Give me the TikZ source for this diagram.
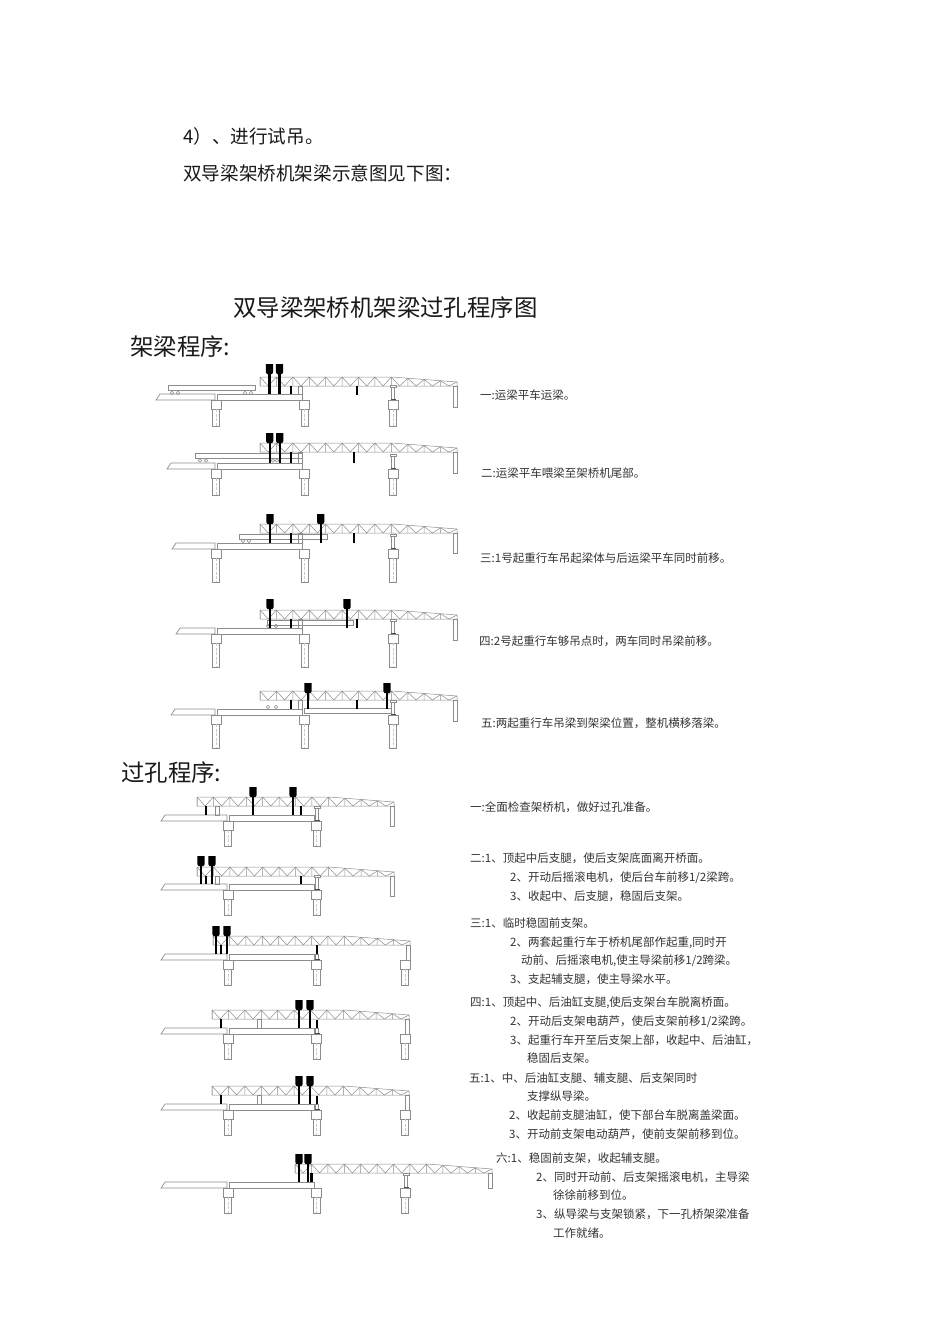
\documentclass[tikz,border=0pt]{standalone}
\usepackage{fontspec}
\setmainfont{Noto Sans CJK SC}
\usetikzlibrary{calc}

% deck spans and piers: [pier offsets] first pier x, deck top y, tip x, column bottom offset
\newcommand{\bridgedeck}[5][0,88.5,177]{%
  \draw[deckline] (#4,#3+6) -- (#4+4,#3) -- (#2-1,#3) -- (#2-1,#3+6) -- cycle;
  \draw[deckline] (#2+1,#3) rectangle (#2+86,#3+6);
  \foreach \k in {#1}{
    \draw[deckline,fill=white] (#2+\k-5,#3+6) rectangle (#2+\k+5,#3+15);
    \draw[deckline] (#2+\k-3.4,#3+15) rectangle (#2+\k+3.4,#3+#5);
    \draw[axisline] (#2+\k,#3+15) -- (#2+\k,#3+#5);
  }
}
% truss: left x, top y, end leg length
\newcommand{\trussbeam}[3]{%
  \draw[thinline] (#1,#2) -- (#1+132,#2) -- (#1+197,#2+5) -- (#1+197,#2+9) -- (#1,#2+9) -- cycle;
  \foreach \i in {0,...,11}{
    \pgfmathsetmacro\xa{#1+\i*16.42}
    \pgfmathsetmacro\xb{\xa+8.21}
    \pgfmathsetmacro\xc{\xa+16.42}
    \pgfmathsetmacro\ya{#2+max(\i-8,0)*1.25}
    \pgfmathsetmacro\yc{#2+max(\i-7,0)*1.25}
    \draw[thinline] (\xa,\ya) -- (\xa,#2+9) (\xa,\ya) -- (\xb,#2+9) -- (\xc,\yc);
  }
  \draw[deckline] (#1+193,#2+9) rectangle (#1+197,#2+9+#3);
}
% crane: x, head top y, hanger bottom y
\newcommand{\crane}[3]{%
  \fill[black] (#1-3.7,#2) -- (#1+3.7,#2) -- (#1+3.7,#2+8) -- (#1+2.6,#2+10)
     -- (#1-2.6,#2+10) -- (#1-3.7,#2+8) -- cycle;
  \draw[blackbar] (#1,#2+9) -- (#1,#3);
}
\newcommand{\legblack}[3]{\draw[blackbar] (#1,#2) -- (#1,#3);}
\newcommand{\leglight}[3]{\draw[deckline] (#1-2,#2) rectangle (#1+2,#3);}
% jack on a pier cap: x, deck y
\newcommand{\pierjack}[2]{%
  \draw[deckline,fill=white] (#1-1.8,#2-9) rectangle (#1+1.8,#2+6);
  \draw[deckline,fill=white] (#1-3,#2-9) rectangle (#1+3,#2-7);
  \fill[black!70] (#1-2.5,#2+5) rectangle (#1+2.5,#2+6);
}
\newcommand{\jackbase}[2]{%
  \draw[deckline,fill=white] (#1-1.8,#2) rectangle (#1+1.8,#2+6);
  \fill[black!70] (#1-2.5,#2+5) rectangle (#1+2.5,#2+6);
}
% girder: left x, right x, top y
\newcommand{\girder}[3]{\draw[deckline,fill=white] (#1,#3) rectangle (#2,#3+5.5);}
\newcommand{\wheelset}[2]{%
  \foreach \w in {#1}{\draw[thinline] (\w,#2) circle (1.8pt);}
}

\begin{document}
\begin{tikzpicture}[
    x=1pt,y=-1pt,
    deckline/.style={draw=black!45,line width=0.7pt},
    thinline/.style={draw=black!45,line width=0.5pt},
    axisline/.style={draw=black!20,line width=0.3pt,dash pattern=on 3pt off 1.5pt},
    blackbar/.style={draw=black,line width=2.3pt},
    bodytext/.style={anchor=base west,inner sep=0pt,font=\fontsize{18.6}{20}\selectfont,text=black!90},
    titletext/.style={anchor=base west,inner sep=0pt,font=\fontsize{23.4}{25}\selectfont,text=black!90},
    steptext/.style={anchor=base west,inner sep=0pt,font=\fontsize{11.5}{13}\selectfont,text=black!80},
]
\useasboundingbox (0,0) rectangle (950,1344);

% ---- Page text -----------------------------------------------------------
\node[bodytext] (para1) at (183,143) {4）、进行试吊。};
\node[bodytext] (para2) at (183,180) {双导梁架桥机架梁示意图见下图：};
\node[titletext] (title) at (233,316) {双导梁架桥机架梁过孔程序图};
\node[titletext] (headA) at (130,355) {架梁程序:};
\node[titletext] (headB) at (121,781) {过孔程序:};

% ---- Erection 1 ----------------------------------------------------------
\bridgedeck{216}{394}{156}{32}
\trussbeam{260}{377}{21}
\girder{168}{255}{385}
\wheelset{172,178,245,251}{393}
\leglight{300}{386}{394}
\legblack{291}{386}{394}
\legblack{357}{386}{395}
\pierjack{393}{394}
\crane{269.5}{364}{394}
\crane{279.5}{364}{394}

% ---- Erection 2 ----------------------------------------------------------
\bridgedeck{216}{463}{167}{32}
\trussbeam{260}{443}{21}
\girder{195}{302}{453}
\wheelset{200,206,273,277}{460.5}
\leglight{300}{452}{463}
\legblack{291}{452}{463}
\legblack{354}{452}{463}
\pierjack{393}{463}
\crane{269.7}{433}{463}
\crane{279.7}{433}{463}

% ---- Erection 3 ----------------------------------------------------------
\bridgedeck{216}{543}{172}{39}
\trussbeam{260}{524}{20}
\girder{239}{327}{534}
\wheelset{243,249}{541}
\leglight{300}{533}{543}
\legblack{291}{533}{543}
\legblack{354}{533}{543}
\pierjack{393}{543}
\crane{270}{514}{543}
\crane{320.7}{514}{543}

% ---- Erection 4 ----------------------------------------------------------
\bridgedeck{216}{628}{176}{39}
\trussbeam{260}{610}{21}
\girder{267}{353}{620}
\wheelset{268,276}{626}
\leglight{300}{619}{628}
\legblack{291}{619}{628}
\legblack{357}{619}{628}
\pierjack{393}{628}
\crane{270}{599}{628}
\crane{347}{599}{628}

% ---- Erection 5 ----------------------------------------------------------
\bridgedeck{216}{709}{171}{39}
\trussbeam{260}{691}{21}
\girder{304}{392}{708}
\wheelset{268,276}{707}
\leglight{300}{700}{709}
\legblack{291}{700}{709}
\legblack{357}{700}{709}
\pierjack{393}{709}
\crane{308}{683}{709}
\crane{387}{683}{709}

% ---- Launching 1 ---------------------------------------------------------
\bridgedeck[0,88.5]{228}{815}{161}{31}
\trussbeam{197}{797}{20}
\leglight{217}{806}{815}
\legblack{206}{806}{815}
\legblack{301}{806}{815}
\pierjack{317}{815}
\crane{253}{787}{815}
\crane{293}{787}{815}

% ---- Launching 2 ---------------------------------------------------------
\bridgedeck[0,88.5]{228}{884}{161}{31}
\trussbeam{197}{867}{20}
\leglight{217}{876}{884}
\legblack{206}{876}{884}
\legblack{301}{876}{884}
\pierjack{317}{884}
\crane{201}{856}{884}
\crane{212}{856}{884}

% ---- Launching 3 ---------------------------------------------------------
\bridgedeck{228}{954}{161}{31}
\trussbeam{213}{936}{15}
\legblack{221}{945}{954}
\legblack{317}{945}{954}
\jackbase{317}{954}
\crane{216}{926}{954}
\crane{227}{926}{954}

% ---- Launching 4 ---------------------------------------------------------
\bridgedeck{228}{1028}{161}{31}
\trussbeam{212}{1010}{15}
\leglight{259}{1019}{1028}
\legblack{221}{1019}{1028}
\legblack{317}{1020}{1028}
\jackbase{317}{1028}
\crane{299}{1000}{1028}
\crane{310}{1000}{1028}

% ---- Launching 5 ---------------------------------------------------------
\bridgedeck{228}{1104}{161}{31}
\trussbeam{212}{1086}{15}
\leglight{259}{1095}{1104}
\legblack{221}{1095}{1104}
\legblack{317}{1096}{1104}
\jackbase{317}{1104}
\crane{299}{1076}{1104}
\crane{310}{1076}{1104}

% ---- Launching 6 ---------------------------------------------------------
\bridgedeck{228}{1182}{161}{31}
\trussbeam{295}{1164}{15}
\legblack{311.5}{1173}{1182}
\pierjack{406}{1182}
\crane{299}{1154}{1182}
\crane{308}{1154}{1182}

% ---- Step notes ----------------------------------------------------------
\foreach \n/\x/\y/\txt in {
    a1/480/399/{一:运梁平车运梁。},
    a2/481/477/{二:运梁平车喂梁至架桥机尾部。},
    a3/480/562/{三:1号起重行车吊起梁体与后运梁平车同时前移。},
    a4/479/645/{四:2号起重行车够吊点时，两车同时吊梁前移。},
    a5/481/727/{五:两起重行车吊梁到架梁位置，整机横移落梁。},
    b1/470/811/{一:全面检查架桥机，做好过孔准备。},
    b2/470/862/{二:1、顶起中后支腿，使后支架底面离开桥面。},
    b3/510/881/{2、开动后摇滚电机，使后台车前移1/2梁跨。},
    b4/510/900/{3、收起中、后支腿，稳固后支架。},
    b5/470/927/{三:1、临时稳固前支架。},
    b6/510/946/{2、两套起重行车于桥机尾部作起重,同时开},
    b7/521/964/{动前、后摇滚电机,使主导梁前移1/2跨梁。},
    b8/510/983/{3、支起辅支腿，使主导梁水平。},
    b9/470/1006/{四:1、顶起中、后油缸支腿,使后支架台车脱离桥面。},
    b10/510/1025/{2、开动后支架电葫芦，使后支架前移1/2梁跨。},
    b11/510/1044/{3、起重行车开至后支架上部，收起中、后油缸，},
    b12/527/1062/{稳固后支架。},
    b13/469/1082/{五:1、中、后油缸支腿、辅支腿、后支架同时},
    b14/527/1100/{支撑纵导梁。},
    b15/509/1119/{2、收起前支腿油缸，使下部台车脱离盖梁面。},
    b16/509/1138/{3、开动前支架电动葫芦，使前支架前移到位。},
    b17/496/1162/{六:1、稳固前支架，收起辅支腿。},
    b18/536/1181/{2、同时开动前、后支架摇滚电机，主导梁},
    b19/553/1199/{徐徐前移到位。},
    b20/536/1218/{3、纵导梁与支架锁紧，下一孔桥架梁准备},
    b21/553/1237/{工作就绪。}}
    \node[steptext] (\n) at (\x,\y) {\txt};

\end{tikzpicture}
\end{document}
